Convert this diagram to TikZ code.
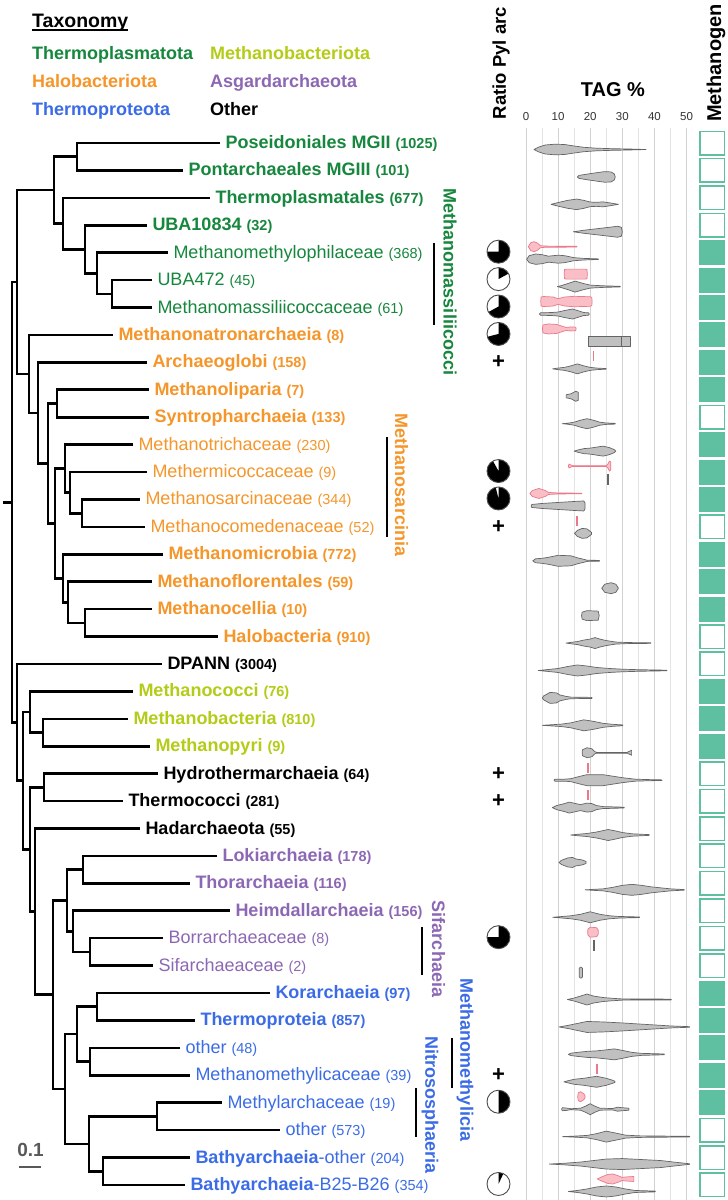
\documentclass[tikz,border=0pt]{standalone}
\usepackage{fontspec}
\setmainfont{Liberation Sans}
\definecolor{cgreen}{RGB}{22,135,61}
\definecolor{corange}{RGB}{245,150,42}
\definecolor{cblue}{RGB}{59,108,230}
\definecolor{cyg}{RGB}{180,204,23}
\definecolor{cpurple}{RGB}{140,104,180}
\definecolor{mteal}{RGB}{94,192,160}
\definecolor{vgray}{RGB}{192,192,192}
\definecolor{vgrayd}{RGB}{100,100,100}
\definecolor{vpink}{RGB}{249,190,198}
\definecolor{vpinkd}{RGB}{236,120,138}
\definecolor{gridmaj}{RGB}{210,210,210}
\definecolor{gridmin}{RGB}{228,228,228}
\newcommand\fs[1]{\fontsize{#1}{#1}\selectfont}
\newcommand\cnt[1]{{\fs{14.5}#1}}
\newcommand\ry[1]{(143+(#1-1)*27.42)}
\newcommand\vio[3]{%
  \gdef\vup{}\gdef\vdn{}%
  \foreach \va/\ha in {#3}{%
    \pgfmathsetmacro\vx{526+3.21*\va}%
    \pgfmathsetmacro\vya{#1-\ha}%
    \pgfmathsetmacro\vyb{#1+\ha}%
    \xdef\vup{\vup(\vx,\vya)}%
    \xdef\vdn{(\vx,\vyb)\vdn}%
  }%
  \edef\vtmp{\noexpand\path[#2] plot coordinates {\vup\vdn} -- cycle;}%
  \vtmp}
\newcommand\gvio[2]{\vio{143+(#1-1)*27.42+6.5}{gv}{#2}}
\newcommand\pvio[2]{\vio{143+(#1-1)*27.42-6}{pv}{#2}}
\newcommand\ptick[2]{\draw[ptk] ({526+3.21*#2},{\ry{#1}-11}) -- ({526+3.21*#2},{\ry{#1}-1});}
\newcommand\gtick[2]{\draw[gtk] ({526+3.21*#2},{\ry{#1}+1.5}) -- ({526+3.21*#2},{\ry{#1}+12.5});}
\newcommand\piech[2]{%
  \pgfmathsetmacro\pyc{143+(#1-1)*27.42-1}%
  \fill[white] (498.5,\pyc) circle[radius=11.5];
  \fill[black] (498.5,\pyc) -- ++(0,-11.5) arc[start angle=-90, delta angle={360*#2}, radius=11.5] -- cycle;
  \draw[black!70, line width=0.9pt] (498.5,\pyc) circle[radius=11.5];}
\newcommand\plusmark[1]{\node[font=\fs{22}\bfseries, inner sep=0pt] at (498.5,{\ry{#1}}) {+};}
\begin{document}
\begin{tikzpicture}[x=1pt,y=-1pt,
  lab/.style={anchor=west, inner xsep=5.5pt, inner ysep=0pt, outer sep=0pt, text height=13pt, text depth=2pt, font=\fs{18}},
  blab/.style={lab, font=\fs{18}\bfseries},
  leg/.style={anchor=west, inner sep=0pt, text height=13pt, text depth=2pt, font=\fs{18}\bfseries},
  tree/.style={line width=2.6pt, line join=miter},
  clade/.style={rotate=-90, font=\fs{18}\bfseries, inner sep=0pt},
  cbar/.style={line width=1.8pt},
  gv/.style={fill=vgray, draw=vgrayd, line width=0.7pt, line join=round},
  pv/.style={fill=vpink, draw=vpinkd, line width=0.7pt, line join=round},
  ptk/.style={draw=vpinkd, line width=1.8pt},
  gtk/.style={draw=vgrayd, line width=1.8pt},
  mbox/.style={draw=mteal, line width=1.5pt}]
\useasboundingbox (0,0) rectangle (728,1200);
\fill[white] (0,0) rectangle (728,1200);

% ---------- legend ----------
\node[anchor=base west, inner sep=0pt, font=\fs{19.5}\bfseries] (ttl) at (32,27.3) {Taxonomy};
\draw[line width=1.5pt] ([yshift=-2.5pt]ttl.base west) -- ([yshift=-2.5pt]ttl.base east);
\node[leg, text=cgreen] (lg1) at (32,54) {Thermoplasmatota};
\node[leg, text=cyg] (lg2) at (210,54) {Methanobacteriota};
\node[leg, text=corange] (lg3) at (32,82) {Halobacteriota};
\node[leg, text=cpurple] (lg4) at (210,82) {Asgardarchaeota};
\node[leg, text=cblue] (lg5) at (32,109.5) {Thermoproteota};
\node[leg] (lg6) at (210,109.5) {Other};

% ---------- tree labels ----------
\node[blab,text=cgreen] (l1) at (220,{\ry{1}}) {Poseidoniales MGII \cnt{(1025)}};
\node[blab,text=cgreen] (l2) at (183,{\ry{2}}) {Pontarchaeales MGIII \cnt{(101)}};
\node[blab,text=cgreen] (l3) at (210,{\ry{3}}) {Thermoplasmatales \cnt{(677)}};
\node[blab,text=cgreen] (l4) at (147,{\ry{4}}) {UBA10834 \cnt{(32)}};
\node[lab,text=cgreen] (l5) at (168,{\ry{5}}) {Methanomethylophilaceae \cnt{(368)}};
\node[lab,text=cgreen] (l6) at (152,{\ry{6}}) {UBA472 \cnt{(45)}};
\node[lab,text=cgreen] (l7) at (152,{\ry{7}}) {Methanomassiliicoccaceae \cnt{(61)}};
\node[blab,text=corange] (l8) at (113,{\ry{8}}) {Methanonatronarchaeia \cnt{(8)}};
\node[blab,text=corange] (l9) at (147,{\ry{9}}) {Archaeoglobi \cnt{(158)}};
\node[blab,text=corange] (l10) at (149,{\ry{10}}) {Methanoliparia \cnt{(7)}};
\node[blab,text=corange] (l11) at (149,{\ry{11}}) {Syntropharchaeia \cnt{(133)}};
\node[lab,text=corange] (l12) at (133,{\ry{12}}) {Methanotrichaceae \cnt{(230)}};
\node[lab,text=corange] (l13) at (147,{\ry{13}}) {Methermicoccaceae \cnt{(9)}};
\node[lab,text=corange] (l14) at (140,{\ry{14}}) {Methanosarcinaceae \cnt{(344)}};
\node[lab,text=corange] (l15) at (145,{\ry{15}}) {Methanocomedenaceae \cnt{(52)}};
\node[blab,text=corange] (l16) at (163,{\ry{16}}) {Methanomicrobia \cnt{(772)}};
\node[blab,text=corange] (l17) at (152,{\ry{17}}) {Methanoflorentales \cnt{(59)}};
\node[blab,text=corange] (l18) at (152,{\ry{18}}) {Methanocellia \cnt{(10)}};
\node[blab,text=corange] (l19) at (218,{\ry{19}}) {Halobacteria \cnt{(910)}};
\node[blab] (l20) at (162,{\ry{20}}) {DPANN \cnt{(3004)}};
\node[blab,text=cyg] (l21) at (133,{\ry{21}}) {Methanococci \cnt{(76)}};
\node[blab,text=cyg] (l22) at (128,{\ry{22}}) {Methanobacteria \cnt{(810)}};
\node[blab,text=cyg] (l23) at (150,{\ry{23}}) {Methanopyri \cnt{(9)}};
\node[blab] (l24) at (158,{\ry{24}}) {Hydrothermarchaeia \cnt{(64)}};
\node[blab] (l25) at (123,{\ry{25}}) {Thermococci \cnt{(281)}};
\node[blab] (l26) at (140,{\ry{26}}) {Hadarchaeota \cnt{(55)}};
\node[blab,text=cpurple] (l27) at (217,{\ry{27}}) {Lokiarchaeia \cnt{(178)}};
\node[blab,text=cpurple] (l28) at (190,{\ry{28}}) {Thorarchaeia \cnt{(116)}};
\node[blab,text=cpurple] (l29) at (230,{\ry{29}}) {Heimdallarchaeia \cnt{(156)}};
\node[lab,text=cpurple] (l30) at (163,{\ry{30}}) {Borrarchaeaceae \cnt{(8)}};
\node[lab,text=cpurple] (l31) at (153,{\ry{31}}) {Sifarchaeaceae \cnt{(2)}};
\node[blab,text=cblue] (l32) at (270,{\ry{32}}) {Korarchaeia \cnt{(97)}};
\node[blab,text=cblue] (l33) at (195,{\ry{33}}) {Thermoproteia \cnt{(857)}};
\node[lab,text=cblue] (l34) at (180,{\ry{34}}) {other \cnt{(48)}};
\node[lab,text=cblue] (l35) at (190,{\ry{35}}) {Methanomethylicaceae \cnt{(39)}};
\node[lab,text=cblue] (l36) at (222,{\ry{36}}) {Methylarchaceae \cnt{(19)}};
\node[lab,text=cblue] (l37) at (280,{\ry{37}}) {other \cnt{(573)}};
\node[lab,text=cblue] (l38) at (190,{\ry{38}}) {\textbf{Bathyarchaeia}-other \cnt{(204)}};
\node[lab,text=cblue] (l39) at (185,{\ry{39}}) {\textbf{Bathyarchaeia}-B25-B26 \cnt{(354)}};

% ---------- internal nodes ----------
\coordinate (nA12) at (77,156.7);
\coordinate (nD) at (112,293.8);
\coordinate (nC) at (97,273.25);
\coordinate (nB) at (85,249.3);
\coordinate (nA) at (63,223.5);
\coordinate (nTP) at (54,190.1);
\coordinate (nH4) at (57,403.5);
\coordinate (nS3) at (82,513.2);
\coordinate (nS2) at (70,492.6);
\coordinate (nS1) at (65,468.6);
\coordinate (nM3) at (85,622.85);
\coordinate (nM2) at (68,602.3);
\coordinate (nM1) at (63,578.3);
\coordinate (nH5) at (55,523.45);
\coordinate (nH3) at (48,463.5);
\coordinate (nH2) at (38,412.95);
\coordinate (nH1) at (29,373.9);
\coordinate (nTH) at (17,282.0);
\coordinate (nMB2) at (43,732.5);
\coordinate (nMB) at (30,711.95);
\coordinate (nHT) at (44,787.35);
\coordinate (nLT) at (83,869.6);
\coordinate (nBS) at (90,951.9);
\coordinate (nHe) at (73,931.3);
\coordinate (nAs) at (67,900.45);
\coordinate (nKT) at (97,1006.7);
\coordinate (nOM) at (90,1061.55);
\coordinate (nTp) at (77,1034.1);
\coordinate (nMo) at (157,1116.4);
\coordinate (nBa) at (103,1171.2);
\coordinate (nNi) at (89,1143.8);
\coordinate (nTq) at (65,1088.95);
\coordinate (nAT) at (53,994.7);
\coordinate (nHA) at (35,911.6);
\coordinate (nR30) at (30,849.5);
\coordinate (nR23) at (23,780.7);
\coordinate (nR17) at (17,722.35);
\coordinate (root) at (12,502.2);
\coordinate (rootstub) at (3,502.2);

% ---------- tree branches ----------
\draw[tree] (l1.west) -| (nA12) |- (l2.west);
\draw[tree] (l6.west) -| (nD) |- (l7.west);
\draw[tree] (l5.west) -| (nC) |- (nD);
\draw[tree] (l4.west) -| (nB) |- (nC);
\draw[tree] (l3.west) -| (nA) |- (nB);
\draw[tree] (nA12) -| (nTP) |- (nA);
\draw[tree] (l10.west) -| (nH4) |- (l11.west);
\draw[tree] (l14.west) -| (nS3) |- (l15.west);
\draw[tree] (l13.west) -| (nS2) |- (nS3);
\draw[tree] (l12.west) -| (nS1) |- (nS2);
\draw[tree] (l18.west) -| (nM3) |- (l19.west);
\draw[tree] (l17.west) -| (nM2) |- (nM3);
\draw[tree] (l16.west) -| (nM1) |- (nM2);
\draw[tree] (nS1) -| (nH5) |- (nM1);
\draw[tree] (nH4) -| (nH3) |- (nH5);
\draw[tree] (l9.west) -| (nH2) |- (nH3);
\draw[tree] (l8.west) -| (nH1) |- (nH2);
\draw[tree] (nTP) -| (nTH) |- (nH1);
\draw[tree] (l22.west) -| (nMB2) |- (l23.west);
\draw[tree] (l21.west) -| (nMB) |- (nMB2);
\draw[tree] (l24.west) -| (nHT) |- (l25.west);
\draw[tree] (l27.west) -| (nLT) |- (l28.west);
\draw[tree] (l30.west) -| (nBS) |- (l31.west);
\draw[tree] (l29.west) -| (nHe) |- (nBS);
\draw[tree] (nLT) -| (nAs) |- (nHe);
\draw[tree] (l32.west) -| (nKT) |- (l33.west);
\draw[tree] (l34.west) -| (nOM) |- (l35.west);
\draw[tree] (nKT) -| (nTp) |- (nOM);
\draw[tree] (l36.west) -| (nMo) |- (l37.west);
\draw[tree] (l38.west) -| (nBa) |- (l39.west);
\draw[tree] (nMo) -| (nNi) |- (nBa);
\draw[tree] (nTp) -| (nTq) |- (nNi);
\draw[tree] (nAs) -| (nAT) |- (nTq);
\draw[tree] (l26.west) -| (nHA) |- (nAT);
\draw[tree] (nHT) -| (nR30) |- (nHA);
\draw[tree] (nMB) -| (nR23) |- (nR30);
\draw[tree] (l20.west) -| (nR17) |- (nR23);
\draw[tree] (nTH) -| (root) |- (nR17);
\draw[tree] (rootstub) -- (root);

% ---------- clade labels ----------
\node[clade, text=cgreen] (cMass) at (450,282) {Methanomassiliicocci};
\draw[cbar] (434,243) -- (434,325);
\node[clade, text=corange] (cSarc) at (401.5,485) {Methanosarcinia};
\draw[cbar] (387,437) -- (387,537);
\node[clade, text=cpurple] (cSif) at (438.5,949) {Sifarchaeia};
\draw[cbar] (422,927) -- (422,975);
\node[clade, text=cblue] (cMm) at (465,1060) {Methanomethylicia};
\draw[cbar] (452,1038) -- (452,1088);
\node[clade, text=cblue] (cNit) at (430,1105) {Nitrososphaeria};
\draw[cbar] (416,1088) -- (416,1137);

% ---------- scale bar ----------
\node[font=\fs{19}\bfseries, text=black!65, inner sep=0pt] (sc) at (30.5,1150) {0.1};
\draw[line width=2pt, black!65] (19,1166.5) -- (41,1166.5);

% ---------- headers ----------
\node[rotate=90, font=\fs{18.5}\bfseries] (hpyl) at (501,63) {Ratio Pyl arc};
\node[rotate=90, font=\fs{20}\bfseries] (hmeth) at (716,63) {Methanogen};
\node[font=\fs{20}\bfseries] (htag) at (613,90) {TAG \%};
\foreach \t in {0,10,...,50} \node[font=\fs{11.5}, text=black!80] at ({526+3.21*\t},117) {\t};

% ---------- grid ----------
\foreach \t in {5,15,...,45} \draw[gridmin, line width=0.9pt] ({526+3.21*\t},128) -- ({526+3.21*\t},1200);
\foreach \t in {0,10,...,50} \draw[gridmaj, line width=0.9pt] ({526+3.21*\t},128) -- ({526+3.21*\t},1200);

% ---------- violins ----------
\gvio{1}{2.5/0, 4/2.5, 6/4.5, 9/5.3, 12/5, 15/3.5, 18/2.2, 22/1.3, 27/0.8, 32/0.5, 37.4/0}
\gvio{2}{16/0, 16.5/1.5, 19/2.8, 22/4.2, 24.5/5.3, 26.5/5, 27.5/3, 27.8/0}
\gvio{3}{7.8/0, 10/1.8, 13/4, 15.8/5.3, 18/4, 20/2.3, 22/2, 24/2.5, 26/1.5, 28.8/0}
\gvio{4}{14.7/0, 18/1.5, 22/3, 26/4.5, 28.5/5.5, 29.7/4.5, 30/0}
\pvio{5}{0.7/0, 1.5/4, 2.5/5, 3.6/3.5, 4.5/1, 6/0.6, 15.8/0.4, 15.9/0}
\gvio{5}{0.2/0, 1/3.5, 3/5.2, 5/4.5, 7/3, 10/4, 12/3.5, 15/1.5, 18/0.8, 22.5/0.3, 22.6/0}
\pvio{6}{11.9/0, 12/4.5, 12.5/5, 18.5/5, 19/4.5, 19.1/0}
\gvio{6}{9.8/0, 11/1, 13/3, 15.3/5.5, 18/3, 20/1.5, 24/0.8, 29.3/0.3, 29.4/0}
\pvio{7}{4.6/0, 4.7/4.5, 5.5/5, 8.5/4.5, 10/2.8, 12/4.5, 15/5.2, 20/4.8, 20.5/4, 20.6/0}
\gvio{7}{4.2/0, 4.5/1.2, 8/1.5, 10/2, 12/3.5, 14.5/5, 16.5/3, 18/1.5, 19.5/1.2, 19.7/0}
\pvio{8}{5.1/0, 5.3/4, 7/5, 9.5/4.5, 11/3, 12.5/1.5, 14/2, 15.5/1.8, 15.6/0}
\gvio{8}{19.4/0, 19.4/5, 32.4/5, 32.4/0}
\draw[vgrayd, line width=0.6pt] ({526+3.21*29.8},{\ry{8}+1.5}) -- ({526+3.21*29.8},{\ry{8}+11.5});
\ptick{9}{21}
\gvio{9}{8.3/0, 10/0.8, 12/1.5, 14/3, 16/5, 18/3, 20/1.5, 22/0.8, 24.9/0.3, 25/0}
\gvio{10}{12.5/0, 12.5/1.5, 14/2.5, 15.5/5, 16.3/4, 16.3/0}
\gvio{11}{11.3/0, 13/0.5, 15/1.5, 17/3.5, 19/5, 21/3.5, 23/1.5, 25/0.7, 27.7/0.4, 27.8/0}
\gvio{12}{15/0, 16/1, 18/2.5, 20/3, 22/4, 24/5, 26/3.5, 27.5/1.5, 28/0}
\pvio{13}{13.2/0, 13.4/2, 14/1, 14.5/0.4, 25/0.4, 25.5/2, 26/5, 26.4/4, 26.4/0}
\gtick{13}{25.5}
\pvio{14}{1.2/0, 2/3, 4/5, 6/3, 7/1, 10/0.5, 17.3/0.3, 17.4/0}
\gvio{14}{1.6/0, 1.8/1.5, 5/2.5, 10/3.5, 15/4.5, 18/5, 18.4/3, 18.4/0}
\ptick{15}{15.8}
\gvio{15}{15.1/0, 16/3, 17.5/5, 19/4.5, 20.4/1, 20.4/0}
\gvio{16}{2.1/0, 3/2, 5/2.5, 7/3.5, 10/5.5, 14/5, 16/3, 18/1.5, 19/0.6, 22.8/0.4, 22.9/0}
\gvio{17}{23.6/0, 24.5/4, 26.5/5.5, 28/4, 28.8/0}
\gvio{18}{17.3/0, 17.5/3.5, 19/5, 22.5/4.5, 22.8/0}
\gvio{19}{12.5/0, 14/0.7, 16/1.5, 18/3, 20/4, 21.5/5.5, 23/4, 25/2.5, 28/1, 32/0.5, 38.8/0.3, 38.9/0}
\gvio{20}{3.8/0, 7/1, 10/2, 13/4, 16/5.5, 19/4.5, 22/3, 26/2, 30/1.3, 35/0.8, 43.8/0.3, 43.9/0}
\gvio{21}{5.1/0, 5.5/2, 7.5/5.5, 9.5/5, 10.5/3, 12.5/1.5, 14/0.8, 20.5/0.5, 20.6/0}
\gvio{22}{5.1/0, 8/0.6, 11/1.2, 14/2.5, 18/5.5, 21/4, 24/2, 27/1, 30.1/0.4, 30.2/0}
\gvio{23}{17.5/0, 17.6/3, 19/5, 20.5/4, 21.5/1, 22/0.4, 31.5/0.4, 32.9/2.5, 32.9/0}
\ptick{24}{19.4}
\gvio{24}{8.7/0, 9/1, 12/1, 14/1.5, 17/4, 19/5.5, 24/5.5, 27/4, 30/2.5, 34/1, 38/0.6, 42.3/0.3, 42.4/0}
\ptick{25}{19.2}
\gvio{25}{8.2/0, 9.5/2, 12/4, 13.5/5.5, 15.5/4, 17/3, 19/4.5, 20.5/4, 22/2, 24/1, 30.5/0.4, 30.6/0}
\gvio{26}{13.9/0, 16/0.7, 19/1.5, 22/3, 25.6/5.5, 28/4, 30/2.5, 33/1.2, 38.3/0.4, 38.4/0}
\gvio{27}{10.3/0, 11/2, 13/4.5, 14.5/5, 15.5/3.5, 16.5/3, 17.5/2.5, 18.7/1, 18.7/0}
\gvio{28}{18.4/0, 21/0.5, 24/1, 27/2.5, 30/4.5, 33/5.5, 36/4.5, 39/3, 42/2, 45/1, 49.2/0.3, 49.3/0}
\gvio{29}{8.3/0, 11/0.7, 14/1.5, 17/3, 20/5.5, 23/3, 26/1.5, 29/0.8, 35.3/0.3, 35.4/0}
\pvio{30}{19.2/0, 19.3/3, 20/5, 22/4.5, 22.5/2, 22.5/0}
\gtick{30}{21.2}
\draw[gv, rounded corners=1.2pt] ({526+3.21*17.1-1.6},{\ry{31}+1.5}) rectangle ({526+3.21*17.1+1.6},{\ry{31}+12.5});
\gvio{32}{12.9/0, 15/1.5, 17/3.5, 19/5.5, 21/3.5, 24/2, 27/1.2, 30/0.6, 45.2/0.4, 45.3/0}
\gvio{33}{10.3/0, 13/1.5, 16/3.5, 19/5.5, 24/5, 30/4, 35/3, 40/2, 45/1, 50.9/0.3, 51/0}
\gvio{34}{13.2/0, 14/1.2, 16/2, 19/3, 22/3.5, 25/4.5, 27.5/5.5, 30/4, 33/2, 36/1, 43/0.4, 43.1/0}
\ptick{35}{22}
\gvio{35}{11.8/0, 13/1, 15/2.5, 18/3.5, 22/5.5, 25/3.5, 27/1.5, 27.7/0.5, 27.7/0}
\pvio{36}{16.1/0, 16.3/4, 17/5, 18/3, 18.4/1, 18.4/0}
\gvio{36}{11.1/0, 11.3/1.5, 12.5/1.2, 14/0.5, 17/1, 18.5/3, 20/5.5, 21.5/3, 23/1, 27/0.7, 28.5/2, 30/1.5, 32/1, 32.1/0}
\gvio{37}{11.4/0, 15/0.5, 19/1.2, 22/3, 25/5.5, 28/3.5, 31/1.5, 35/0.8, 50.9/0.3, 51/0}
\gvio{38}{7.2/0, 12/0.8, 17/2, 21/3.5, 25/5, 30/5.5, 36/4.5, 42/3.5, 46/2, 50.9/0.3, 51/0}
\pvio{39}{22.2/0, 23.5/2, 25.5/4.5, 27/5, 28.5/3.5, 30/1.5, 31/2, 33.6/2.5, 33.6/0}
\gvio{39}{13.2/0, 16/1, 19/2.5, 22/4.5, 25/5.5, 28/4.5, 31/2.5, 34/1, 40.2/0.4, 40.3/0}

% ---------- pies and plus marks ----------
\piech{5}{0.75}
\piech{6}{0.17}
\piech{7}{0.67}
\piech{8}{0.71}
\piech{13}{0.92}
\piech{14}{0.96}
\piech{30}{0.75}
\piech{36}{0.5}
\piech{39}{0.07}
\plusmark{9}
\plusmark{15}
\plusmark{24}
\plusmark{25}
\plusmark{35}

% ---------- methanogen boxes ----------
\foreach \i/\c in {1/white,2/white,3/white,4/white,5/mteal,6/mteal,7/mteal,8/mteal,9/mteal,10/mteal,
  11/white,12/mteal,13/mteal,14/mteal,15/white,16/mteal,17/mteal,18/mteal,19/white,20/white,
  21/mteal,22/mteal,23/mteal,24/white,25/white,26/white,27/white,28/white,29/white,30/white,
  31/white,32/mteal,33/mteal,34/mteal,35/mteal,36/mteal,37/white,38/white,39/white}
  \draw[mbox, fill=\c] (699.75,{\ry{\i}-11.75}) rectangle (724.25,{\ry{\i}+11.75});
\end{tikzpicture}
\end{document}
